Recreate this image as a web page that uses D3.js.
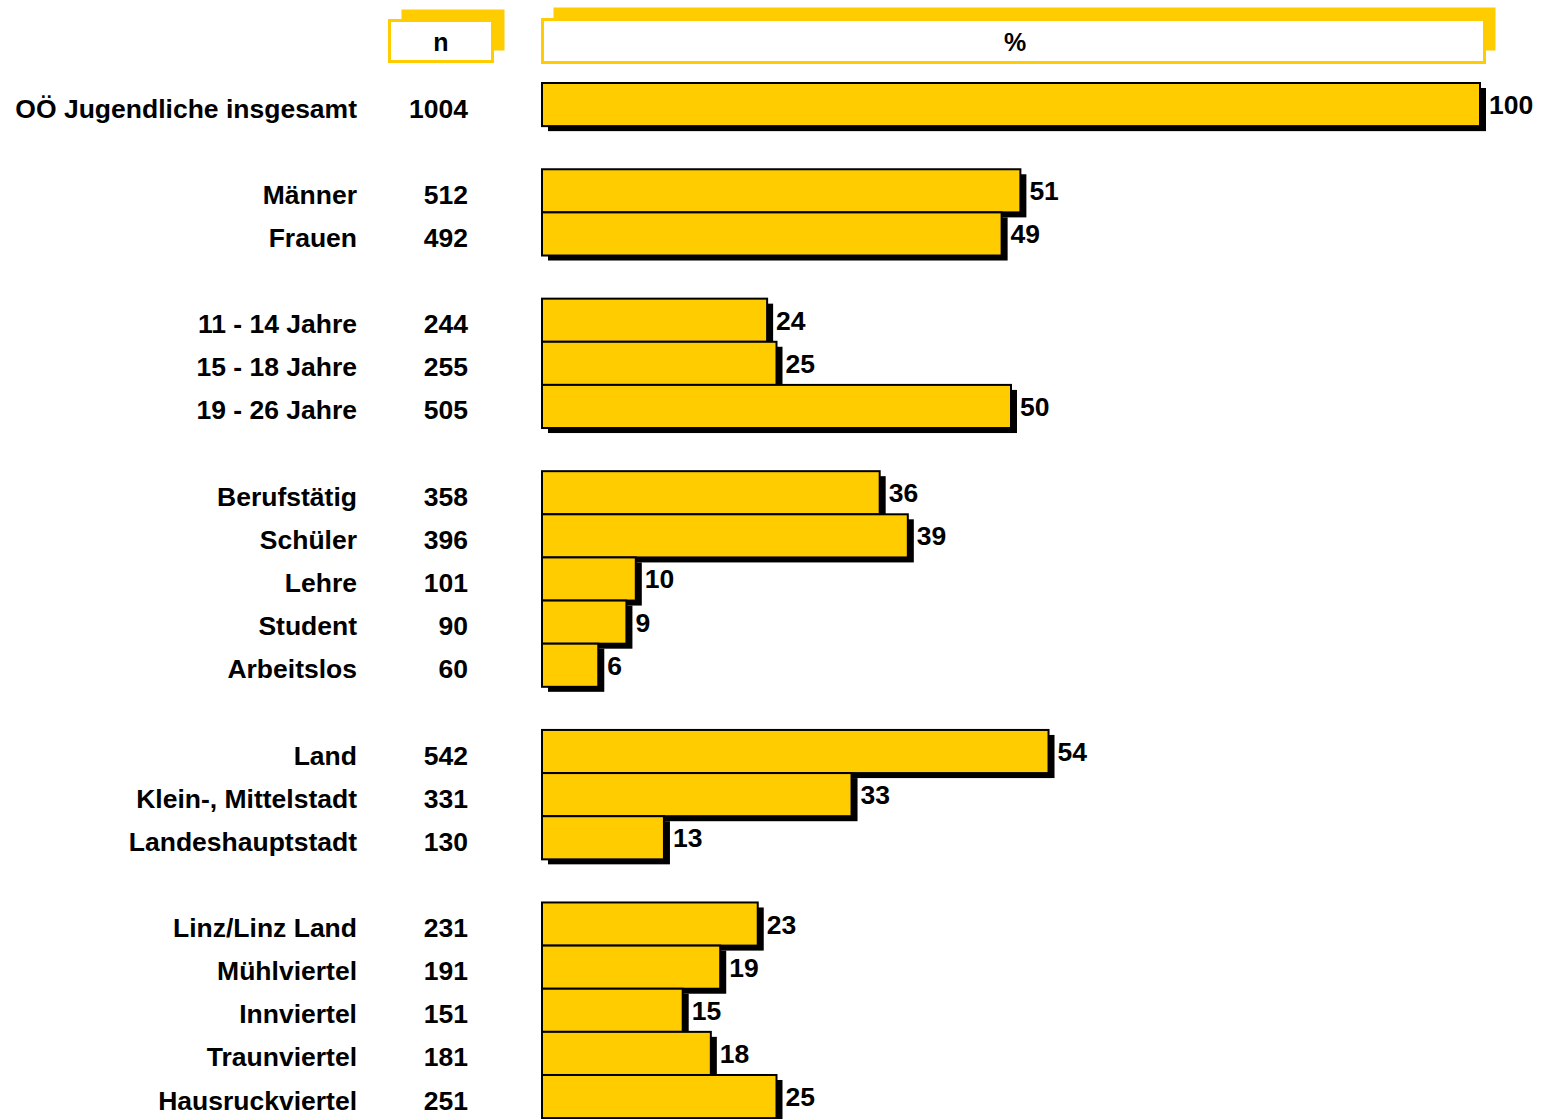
<!DOCTYPE html>
<html><head><meta charset="utf-8">
<script src="https://cdn.jsdelivr.net/npm/d3@7"></script>
<style>
html,body{margin:0;padding:0;background:#fff;}
text{font-family:"Liberation Sans",Arial,sans-serif;font-weight:bold;fill:#000;}
</style></head>
<body>
<svg id="chart" width="1541" height="1119"></svg>
<script>
const categories = ["OÖ Jugendliche insgesamt","Männer","Frauen","11 - 14 Jahre","15 - 18 Jahre","19 - 26 Jahre","Berufstätig","Schüler","Lehre","Student","Arbeitslos","Land","Klein-, Mittelstadt","Landeshauptstadt","Linz/Linz Land","Mühlviertel","Innviertel","Traunviertel","Hausruckviertel"];
const nValues = [1004,512,492,244,255,505,358,396,101,90,60,542,331,130,231,191,151,181,251];
const pctValues = [100,51,49,24,25,50,36,39,10,9,6,54,33,13,23,19,15,18,25];
const groupIndex = [0,1,1,2,2,2,3,3,3,3,3,4,4,4,5,5,5,5,5];
const headerN = "n";
const headerPct = "%";

const YELLOW = "#FFCC00";
const svg = d3.select("#chart");

const rows = categories.map((c,i)=>({label:c, n:nValues[i], pct:pctValues[i], slot:i+groupIndex[i]}));
const nSlots = d3.max(rows, d=>d.slot)+1;

const x = d3.scaleLinear().domain([0,100]).range([542,1480]);
const y = d3.scaleBand().domain(d3.range(nSlots)).range([83, 83+nSlots*43.13]).padding(0);

// headers
function headerBox(x0, y0, w, h, sx, sy, txt, tx){
  svg.append("rect").attr("x",x0+sx).attr("y",y0-sy).attr("width",w).attr("height",h).attr("fill",YELLOW);
  svg.append("rect").attr("x",x0).attr("y",y0).attr("width",w).attr("height",h)
    .attr("fill","#fff").attr("stroke",YELLOW).attr("stroke-width",3);
  svg.append("text").attr("x",tx).attr("y",y0+h/2+1).attr("text-anchor","middle")
    .attr("dominant-baseline","central").style("font-size","25px").text(txt);
}
headerBox(389.5, 20.5, 103, 41, 12, 11, headerN, 441);
headerBox(542.5, 19.5, 942, 43, 11, 12, headerPct, 1015);

// bars
const g = svg.append("g");
rows.forEach(d=>{
  const top = y(d.slot), h = y.bandwidth();
  const w = x(d.pct)-x(0);
  g.append("rect").attr("x",x(0)+6).attr("y",top+5).attr("width",w).attr("height",h).attr("fill","#000");
  g.append("rect").attr("x",x(0)).attr("y",top).attr("width",w).attr("height",h)
    .attr("fill",YELLOW).attr("stroke","#000").attr("stroke-width",2);
  g.append("text").attr("x",x(d.pct)+9).attr("y",top+h/2+0.5)
    .attr("dominant-baseline","central").style("font-size","26.5px").text(d.pct);
});

// labels
const fs = "26.5px";
svg.append("g").selectAll("text.lab").data(rows).join("text")
  .attr("class","lab").attr("x",357).attr("y",d=>y(d.slot)+y.bandwidth()/2+4)
  .attr("text-anchor","end").attr("dominant-baseline","central").style("font-size",fs)
  .text(d=>d.label);
svg.append("g").selectAll("text.nv").data(rows).join("text")
  .attr("class","nv").attr("x",468).attr("y",d=>y(d.slot)+y.bandwidth()/2+4)
  .attr("text-anchor","end").attr("dominant-baseline","central").style("font-size",fs)
  .text(d=>d.n);
</script>
</body></html>
